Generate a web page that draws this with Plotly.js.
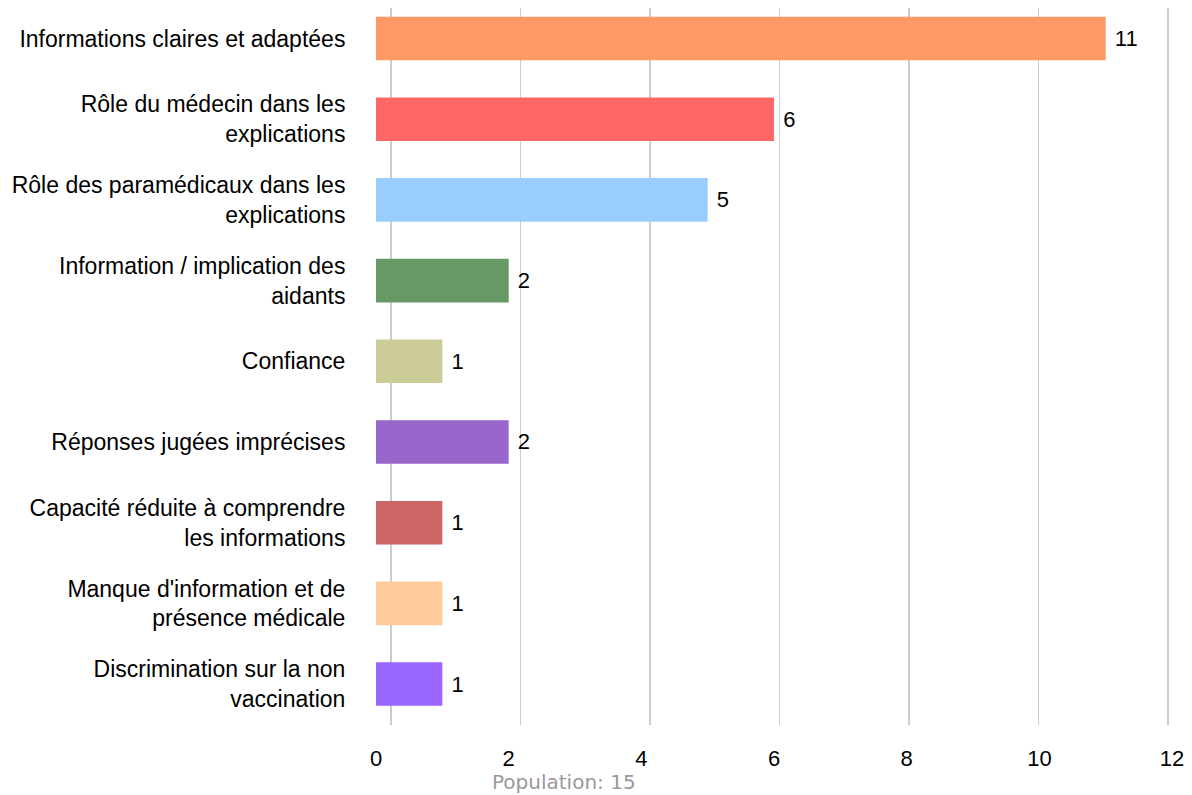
<!DOCTYPE html>
<html>
<head>
<meta charset="utf-8">
<script src="https://cdn.plot.ly/plotly-3.0.1.min.js"></script>
<style>html,body{margin:0;padding:0;background:#fff;}#chart{width:1192px;height:795px;}</style>
</head>
<body>
<div id="chart"></div>
<script>
var categories = [
  "Informations claires et adaptées",
  "Rôle du médecin dans les<br>explications",
  "Rôle des paramédicaux dans les<br>explications",
  "Information / implication des<br>aidants",
  "Confiance",
  "Réponses jugées imprécises",
  "Capacité réduite à comprendre<br>les informations",
  "Manque d'information et de<br>présence médicale",
  "Discrimination sur la non<br>vaccination"
];
var values = [11, 6, 5, 2, 1, 2, 1, 1, 1];
var barColors = [
  "rgb(255,153,102)", "rgb(255,102,102)", "rgb(153,204,255)",
  "rgb(102,153,102)", "rgb(204,204,153)", "rgb(153,102,204)",
  "rgb(204,102,102)", "rgb(255,204,153)", "rgb(153,102,255)"
];
var tickVals = [0, 2, 4, 6, 8, 10, 12];
var tickText = ["0", "2", "4", "6", "8", "10", "12"];
var footnote = "Population: 15";

var trace = {
  type: "bar",
  orientation: "h",
  x: values,
  y: categories,
  width: 0.54,
  marker: {color: barColors, line: {width: 0}},
  text: values.map(function(v){ return "\u00a0" + v; }),
  textposition: "outside",
  textfont: {family: "Liberation Sans, Arial, sans-serif", size: 22, color: "#000"},
  cliponaxis: false,
  hoverinfo: "x+y"
};

var layout = {
  width: 1192, height: 795,
  margin: {l: 376, r: 8, t: 8, b: 70},
  paper_bgcolor: "#fff", plot_bgcolor: "#fff",
  showlegend: false,
  font: {family: "Liberation Sans, Arial, sans-serif", size: 21, color: "#000"},
  xaxis: {
    range: [0, 12.18],
    tickvals: tickVals, ticktext: tickText,
    showgrid: false, zeroline: false, showline: false,
    ticks: "outside", ticklen: 14, tickcolor: "rgba(0,0,0,0)",
    tickfont: {family: "Liberation Sans, Arial, sans-serif", size: 22, color: "#000"},
    fixedrange: true
  },
  xaxis2: {
    overlaying: "x", anchor: "y", side: "bottom",
    range: [-0.2317, 12.247],
    tickvals: tickVals, showticklabels: false,
    showgrid: true, gridcolor: "#cccccc", gridwidth: 1.5,
    zeroline: false, showline: false, ticks: ""
  },
  yaxis: {
    type: "category",
    range: [8.507, -0.378],
    showgrid: false, zeroline: false, showline: false,
    ticks: "outside", ticklen: 25, tickcolor: "rgba(0,0,0,0)",
    tickfont: {family: "Liberation Sans, Arial, sans-serif", size: 23, color: "#000"},
    fixedrange: true
  },
  annotations: [{
    text: footnote, xref: "paper", yref: "paper",
    x: 0.2327, y: -0.079, xanchor: "center", yanchor: "middle",
    showarrow: false,
    font: {family: "DejaVu Sans, sans-serif", size: 20, color: "#999999"}
  }]
};

Plotly.newPlot("chart", [trace, {type: "scatter", x: [], y: [], xaxis: "x2", yaxis: "y", showlegend: false, hoverinfo: "skip"}], layout, {displayModeBar: false, staticPlot: true});
</script>
</body>
</html>
